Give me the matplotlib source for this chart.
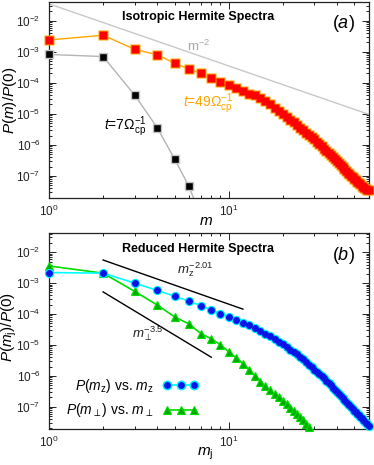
import numpy as np
import matplotlib
matplotlib.use("Agg")
import matplotlib.pyplot as plt
from matplotlib.ticker import LogLocator, NullFormatter, FixedLocator
from matplotlib.lines import Line2D

plt.rcParams['font.family'] = ['Liberation Sans', 'DejaVu Sans']
plt.rcParams['mathtext.fontset'] = 'custom'
plt.rcParams['mathtext.rm'] = 'Liberation Sans'
plt.rcParams['mathtext.it'] = 'Liberation Sans:italic'
plt.rcParams['mathtext.bf'] = 'Liberation Sans:bold'

# ---------------- data ----------------
m_t7 = [1, 2, 3, 4, 5, 6, 7]
p_t7 = [8.2e-4, 7.0e-4, 4.0e-5, 3.6e-6, 3.5e-7, 4.7e-8, 5.0e-9]

m_t49 = list(range(1, 61))
p_t49 = [2.4e-3, 3.4e-3, 1.2e-3, 8.0e-4, 4.3e-4, 2.8e-4, 2.0e-4, 1.4e-4, 1.1e-4, 8.5e-5,
         6.8e-5, 5.4e-5, 4.5e-5, 3.9e-5, 3.3e-5, 2.6e-5, 2.0e-5, 1.6e-5, 1.25e-5, 1.0e-5,
         8.0e-6, 6.5e-6, 5.3e-6, 4.4e-6, 3.6e-6, 3.0e-6, 2.5e-6, 2.1e-6, 1.8e-6, 1.5e-6,
         1.27e-6, 1.07e-6, 9.0e-7, 7.6e-7, 6.4e-7, 5.4e-7, 4.6e-7, 4.0e-7, 3.5e-7, 3.1e-7,
         2.7e-7, 2.3e-7, 2.0e-7, 1.7e-7, 1.45e-7, 1.27e-7, 1.12e-7, 1.0e-7, 8.9e-8, 8.0e-8,
         7.2e-8, 6.5e-8, 5.8e-8, 5.3e-8, 4.8e-8, 4.4e-8, 4.1e-8, 3.8e-8, 3.6e-8, 3.5e-8]

ref_a_m = [1, 60]
ref_a_p = [3.5e-2, 9.7e-6]

mz = list(range(1, 61))
p_mz = [2.2e-3, 2.1e-3, 1.0e-3, 5.8e-4, 3.8e-4, 2.6e-4, 1.87e-4, 1.36e-4, 1.03e-4, 8.1e-5,
        6.5e-5, 5.3e-5, 4.3e-5, 3.5e-5, 2.8e-5, 2.3e-5, 1.9e-5, 1.55e-5, 1.27e-5, 1.05e-5,
        8.6e-6, 7.1e-6, 5.9e-6, 4.9e-6, 4.1e-6, 3.4e-6, 2.8e-6, 2.3e-6, 1.9e-6, 1.6e-6,
        1.35e-6, 1.14e-6, 9.7e-7, 8.2e-7, 6.9e-7, 5.8e-7, 4.9e-7, 4.1e-7, 3.4e-7, 2.9e-7,
        2.52e-7, 2.2e-7, 1.91e-7, 1.66e-7, 1.45e-7, 1.26e-7, 1.1e-7, 9.6e-8, 8.4e-8, 7.4e-8,
        6.6e-8, 5.9e-8, 5.3e-8, 4.8e-8, 4.3e-8, 3.8e-8, 3.4e-8, 3.0e-8, 2.7e-8, 2.4e-8]

mperp = list(range(1, 31))
p_mperp = [3.6e-3, 2.1e-3, 5.4e-4, 1.96e-4, 8.1e-5, 4.8e-5, 2.34e-5, 1.58e-5, 1.02e-5, 6.0e-6,
           3.9e-6, 2.5e-6, 1.6e-6, 1.0e-6, 6.5e-7, 4.6e-7, 3.4e-7, 2.6e-7, 2.0e-7, 1.55e-7,
           1.2e-7, 9.3e-8, 7.3e-8, 5.8e-8, 4.6e-8, 3.6e-8, 2.8e-8, 2.2e-8, 1.7e-8, 1.3e-8]

ref_z_m = [2, 12]
ref_z_p = [5.6e-3, 1.44e-4]
ref_perp_m = [2, 8]
ref_perp_p = [5.2e-4, 4.0e-6]

XLIM = (1, 60)
YLIM = (1.9e-8, 4.1e-2)
x_major = [1, 10]
y_major = [1e-7, 1e-6, 1e-5, 1e-4, 1e-3, 1e-2]

# ---------------- figure ----------------
W, H = 374, 465
fig = plt.figure(figsize=(W / 100, H / 100), dpi=100)

def px_axes(l, t, r, b):
    return fig.add_axes([l / W, 1 - b / H, (r - l) / W, (b - t) / H])

def fig_text(x, y, s, **kw):
    fig.text(x / W, 1 - y / H, s, **kw)

ax1 = px_axes(49, 1.7, 368.5, 198.3)
ax2 = px_axes(49, 233.3, 368.5, 429)

def style(ax):
    ax.set_xscale('log')
    ax.set_yscale('log')
    ax.set_xlim(*XLIM)
    ax.set_ylim(*YLIM)
    ax.xaxis.set_major_locator(FixedLocator(x_major))
    ax.xaxis.set_minor_locator(LogLocator(base=10, subs=np.arange(2, 10), numticks=20))
    ax.yaxis.set_major_locator(FixedLocator(y_major))
    ax.yaxis.set_minor_locator(LogLocator(base=10, subs=np.arange(2, 10), numticks=30))
    ax.xaxis.set_minor_formatter(NullFormatter())
    ax.yaxis.set_minor_formatter(NullFormatter())
    ax.tick_params(which='both', direction='in', top=True, right=True, labelsize=8.5,
                   width=0.7, colors='#222222')
    ax.tick_params(which='major', length=5)
    ax.tick_params(which='minor', length=2.5)
    ax.tick_params(axis='y', which='major', pad=6)
    ax.tick_params(axis='x', which='major', pad=4)
    for s in ax.spines.values():
        s.set_linewidth(0.9)
        s.set_color('#222222')

style(ax1)
style(ax2)

def rim_markers(ax, x, y, marker, ms, rim, face, rimw, z):
    ax.plot(x, y, ls='none', marker=marker, ms=ms + rimw, mfc=rim, mec='none',
            clip_on=False, zorder=z)
    ax.plot(x, y, ls='none', marker=marker, ms=ms - rimw * 0.3, mfc=face, mec='none',
            clip_on=False, zorder=z + 0.1)

# ---------------- panel (a) ----------------
ax1.plot(ref_a_m, ref_a_p, color='#c8c8c8', lw=1.0)
ax1.plot(m_t7, p_t7, color='#b4b4b4', lw=1.0)
vis7 = [(m, p) for m, p in zip(m_t7, p_t7) if p >= YLIM[0]]
ax1.plot([v[0] for v in vis7], [v[1] for v in vis7], ls='none', marker='s', ms=5.6,
         mfc='black', mec='#c4c4c4', mew=1.0, clip_on=False, zorder=4)
ax1.plot(m_t49, p_t49, color='#ffa500', lw=1.0, zorder=4)
rim_markers(ax1, m_t49, p_t49, 's', 5.6, '#ffa500', '#ff0000', 1.2, 5)

fig_text(198, 17, 'Isotropic Hermite Spectra', fontsize=9, fontweight='bold',
         ha='center', va='center')
fig_text(343, 23, r'$(a)$', fontsize=13, ha='center', va='center')
fig_text(199, 46, r'm$^{-2}$', fontsize=9.5, color='#a8a8a8', ha='center', va='center')
fig_text(208, 104, r'$t$=49$\mathit{\Omega}_{\mathrm{cp}}^{-1}$', fontsize=10,
         color='#ffa500', ha='center', va='center')
fig_text(125, 127, r'$t$=7$\mathit{\Omega}_{\mathrm{cp}}^{-1}$', fontsize=10,
         color='black', ha='center', va='center')
ax1.set_xlabel(r'$m$', fontsize=11)
ax1.xaxis.set_label_coords(0.49, -0.08)
ax1.set_ylabel(r'$P(m)/P(0)$', fontsize=11)
ax1.yaxis.set_label_coords(-0.095, 0.5)

# ---------------- panel (b) ----------------
ax2.plot(ref_z_m, ref_z_p, color='black', lw=1.0)
ax2.plot(ref_perp_m, ref_perp_p, color='black', lw=1.0)
ax2.plot(mz, p_mz, color='#00ffff', lw=1.2, zorder=5)
rim_markers(ax2, mz, p_mz, 'o', 5.4, '#00eaff', '#0a14e6', 1.3, 5.2)
ax2.plot(mperp, p_mperp, color='#00dd00', lw=1.2, zorder=4)
visp = [(m, p) for m, p in zip(mperp, p_mperp) if p >= YLIM[0]]
ax2.plot([v[0] for v in visp], [v[1] for v in visp], ls='none', marker='^', ms=6.0,
         mfc='#00aa00', mec='#00dd00', mew=0.8, clip_on=False, zorder=4.5)

h_z = Line2D([], [], color='#00ffff', lw=1.2, marker='o', ms=6.0, mfc='#0a14e6',
             mec='#00eaff', mew=1.1)
h_p = Line2D([], [], color='#00dd00', lw=1.2, marker='^', ms=6.0, mfc='#00aa00',
             mec='#00dd00', mew=0.8)

fig_text(198, 249, 'Reduced Hermite Spectra', fontsize=9, fontweight='bold',
         ha='center', va='center')
fig_text(343, 255, r'$(b)$', fontsize=13, ha='center', va='center')
fig_text(195, 270, r'$m_{\mathrm{z}}^{-2.01}$', fontsize=9.5, ha='center', va='center',
         color='#222222')
fig_text(148, 334, r'$m_{\perp}^{-3.5}$', fontsize=9.5, ha='center', va='center',
         color='#222222')
ax2.set_xlabel(r'$m_{\mathrm{j}}$', fontsize=11)
ax2.xaxis.set_label_coords(0.49, -0.085)
ax2.set_ylabel(r'$P(m_{\mathrm{j}})/P(0)$', fontsize=11)
ax2.yaxis.set_label_coords(-0.095, 0.52)

ax2.legend([h_z, h_p],
           [r'$P(m_{\mathrm{z}})$ vs. $m_{\mathrm{z}}$', r'$P(m_{\perp})$ vs. $m_{\perp}$'],
           loc='center right', bbox_to_anchor=(0.466, 0.157),
           frameon=False, markerfirst=False, numpoints=3, fontsize=10,
           handlelength=2.5, handletextpad=0.7, labelspacing=0.45,
           borderpad=0, borderaxespad=0)

fig.savefig('out.png', dpi=100)
